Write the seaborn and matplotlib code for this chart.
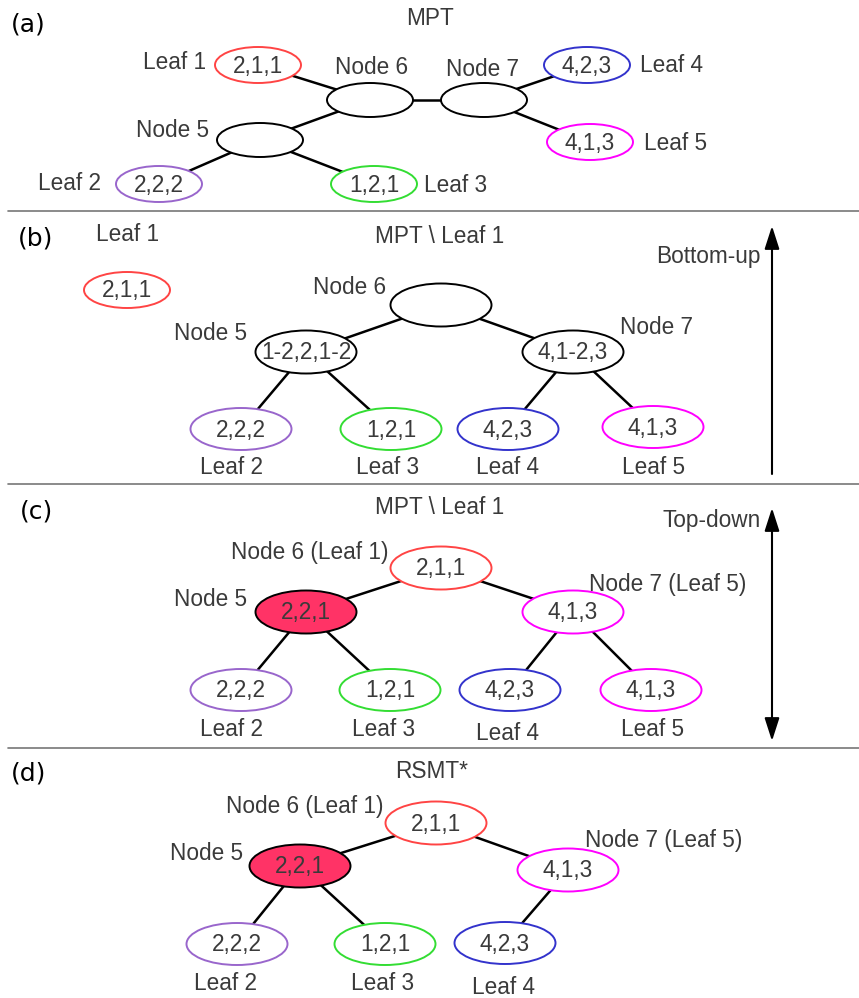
import matplotlib
matplotlib.use("Agg")
import matplotlib.pyplot as plt
from matplotlib.patches import Ellipse
import seaborn as sns
import pandas as pd

# ---- data: node states per panel ----
leaf_names = ["Leaf 1", "Leaf 2", "Leaf 3", "Leaf 4", "Leaf 5"]
leaf_states = ["2,1,1", "2,2,2", "1,2,1", "4,2,3", "4,1,3"]

b_node_states = {"Node 5": "1-2,2,1-2", "Node 6": "", "Node 7": "4,1-2,3"}
c_node_states = {"Node 5": "2,2,1", "Node 6": "2,1,1", "Node 7": "4,1,3"}

panel_titles = ["MPT", "MPT \\ Leaf 1", "MPT \\ Leaf 1", "RSMT*"]
panel_tags = ["(a)", "(b)", "(c)", "(d)"]

a_edges = [("Node 6", "Leaf 1"), ("Node 6", "Node 5"), ("Node 6", "Node 7"),
           ("Node 5", "Leaf 2"), ("Node 5", "Leaf 3"),
           ("Node 7", "Leaf 4"), ("Node 7", "Leaf 5")]
b_edges = [("Node 6", "Node 5"), ("Node 6", "Node 7"),
           ("Node 5", "Leaf 2"), ("Node 5", "Leaf 3"),
           ("Node 7", "Leaf 4"), ("Node 7", "Leaf 5")]
d_edges = [("Node 6", "Node 5"), ("Node 6", "Node 7"),
           ("Node 5", "Leaf 2"), ("Node 5", "Leaf 3"), ("Node 7", "Leaf 4")]

# ---- layout (pixel coordinates) ----
a_pos = {"Leaf 1": (258, 65), "Node 6": (370, 100), "Node 7": (484, 100),
         "Leaf 4": (587, 65), "Leaf 5": (590, 142), "Node 5": (260, 140),
         "Leaf 2": (159, 184), "Leaf 3": (374, 184)}
a_lab = {"Leaf 1": (175, 62), "Node 6": (372, 67), "Node 7": (482, 69),
         "Leaf 4": (672, 65), "Leaf 5": (676, 143), "Node 5": (173, 130),
         "Leaf 2": (70, 183), "Leaf 3": (456, 185)}

b_pos = {"Leaf 1": (127, 290), "Node 6": (441, 305), "Node 5": (306, 352),
         "Node 7": (573, 352), "Leaf 2": (241, 429), "Leaf 3": (391, 429),
         "Leaf 4": (508, 429), "Leaf 5": (653, 427)}
b_lab = {"Leaf 1": (128, 234), "Node 6": (350, 287), "Node 5": (211, 334),
         "Node 7": (656, 327), "Leaf 2": (231, 467), "Leaf 3": (388, 467),
         "Leaf 4": (508, 467), "Leaf 5": (654, 467)}

c_pos = {"Node 6": (441, 568), "Node 5": (306, 612), "Node 7": (573, 612),
         "Leaf 2": (241, 690), "Leaf 3": (390, 690), "Leaf 4": (510, 690),
         "Leaf 5": (651, 690)}
c_lab = {"Node 6": (310, 552), "Node 5": (211, 599), "Node 7": (668, 585),
         "Leaf 2": (231, 729), "Leaf 3": (384, 729), "Leaf 4": (508, 733),
         "Leaf 5": (653, 729)}

d_pos = {"Node 6": (436, 823), "Node 5": (300, 866), "Node 7": (568, 870),
         "Leaf 2": (237, 944), "Leaf 3": (385, 944), "Leaf 4": (505, 943)}
d_lab = {"Node 6": (305, 807), "Node 5": (207, 853), "Node 7": (664, 840),
         "Leaf 2": (226, 984), "Leaf 3": (383, 984), "Leaf 4": (503, 988)}

leaf_colors = {"Leaf 1": "#ff4444", "Leaf 2": "#9966cc", "Leaf 3": "#33dd33",
               "Leaf 4": "#3333cc", "Leaf 5": "#ff00ff"}
text_color = "#3a3a3a"
fill_color = "#ff3366"

sns.set_style("white")
plt.rcParams["font.family"] = ["Liberation Sans", "DejaVu Sans"]

fig = plt.figure(figsize=(8.59, 9.98), dpi=100)
ax = fig.add_axes([0, 0, 1, 1])
ax.set_xlim(0, 859)
ax.set_ylim(998, 0)
ax.axis("off")


def draw_edges(edges, pos):
    rows = []
    for i, (a, b) in enumerate(edges):
        rows.append({"x": pos[a][0], "y": pos[a][1], "edge": i})
        rows.append({"x": pos[b][0], "y": pos[b][1], "edge": i})
    df = pd.DataFrame(rows)
    sns.lineplot(data=df, x="x", y="y", units="edge", estimator=None,
                 sort=False, color="black", lw=1.8, ax=ax, zorder=1)


def draw_node(xy, w, h, text, edge="black", face="white"):
    ax.add_patch(Ellipse(xy, w, h, facecolor=face, edgecolor=edge, lw=1.4, zorder=2))
    if text:
        ax.text(xy[0], xy[1] + 1, text, ha="center", va="center", fontsize=16.3,
                color=text_color, zorder=3)


def label(xy, s):
    ax.text(xy[0], xy[1], s, ha="center", va="center", fontsize=16.3, color=text_color)


# panel a
draw_edges(a_edges, a_pos)
for name, s in zip(leaf_names, leaf_states):
    draw_node(a_pos[name], 86, 36, s, edge=leaf_colors[name])
for name in ["Node 5", "Node 6", "Node 7"]:
    draw_node(a_pos[name], 86, 34, "")
for name, xy in a_lab.items():
    label(xy, name)

# panel b
draw_edges(b_edges, b_pos)
for name, s in zip(leaf_names, leaf_states):
    if name == "Leaf 1":
        draw_node(b_pos[name], 86, 36, s, edge=leaf_colors[name])
    else:
        draw_node(b_pos[name], 101, 42, s, edge=leaf_colors[name])
for name, s in b_node_states.items():
    draw_node(b_pos[name], 101, 43, s)
for name, xy in b_lab.items():
    label(xy, name)

# panels c and d
node_edges = {"Node 5": "black", "Node 6": leaf_colors["Leaf 1"], "Node 7": leaf_colors["Leaf 5"]}
node_labels = {"Node 5": "Node 5", "Node 6": "Node 6 (Leaf 1)", "Node 7": "Node 7 (Leaf 5)"}
for pos, lab, edges in [(c_pos, c_lab, b_edges), (d_pos, d_lab, d_edges)]:
    draw_edges(edges, pos)
    for name, s in zip(leaf_names, leaf_states):
        if name in pos:
            draw_node(pos[name], 101, 42, s, edge=leaf_colors[name])
    for name, s in c_node_states.items():
        face = fill_color if name == "Node 5" else "white"
        draw_node(pos[name], 101, 43, s, edge=node_edges[name], face=face)
    for name, xy in lab.items():
        label(xy, node_labels.get(name, name))

# titles, tags, separators
for (x, y), s in zip([(430, 18), (440, 236), (440, 508), (432, 772)], panel_titles):
    label((x, y), s)
for (x, y), s in zip([(28, 24), (36, 238), (37, 512), (29, 773)], panel_tags):
    ax.text(x, y, s, ha="center", va="center", fontsize=18, color="black",
            family=["DejaVu Sans"])
for y in [211, 484, 748]:
    ax.plot([8, 859], [y, y], color="#777777", lw=1.2)

# direction arrows
ax.annotate("", xy=(772, 226), xytext=(772, 474),
            arrowprops=dict(arrowstyle="-|>,head_width=0.45,head_length=1.4",
                            color="black", lw=1.5, shrinkA=0, shrinkB=0))
label((708, 256), "Bottom-up")
ax.annotate("", xy=(772, 741), xytext=(772, 508),
            arrowprops=dict(arrowstyle="<|-|>,head_width=0.45,head_length=1.4",
                            color="black", lw=1.5, shrinkA=0, shrinkB=0))
label((712, 520), "Top-down")

fig.savefig("out.png", dpi=100)
